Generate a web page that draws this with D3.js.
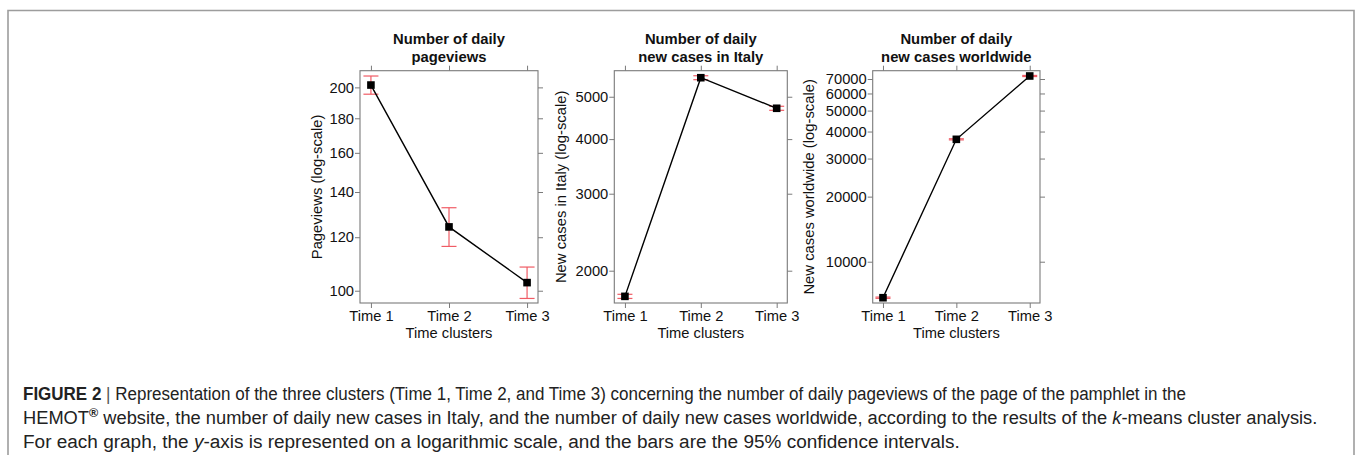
<!DOCTYPE html>
<html><head><meta charset="utf-8">
<script src="https://cdn.jsdelivr.net/npm/d3@7"></script>
<style>body{margin:0;background:#fff}</style>
</head><body>
<svg id="c" width="1356" height="455" xmlns="http://www.w3.org/2000/svg"></svg>
<script>
// ---------------- data ----------------
const categories = ["Time 1", "Time 2", "Time 3"];
const pageviewsMean = [201.6, 124.3, 102.8];
const pageviewsLow  = [195.4, 116.3, 97.4];
const pageviewsHigh = [207.9, 132.7, 108.4];
const italyMean = [1747, 5527, 4705];
const italyLow  = [1728, 5470, 4655];
const italyHigh = [1766, 5585, 4755];
const worldMean = [6815, 36820, 72280];
const worldLow  = [6770, 36600, 71850];
const worldHigh = [6860, 37040, 72710];
const pageviewsTicks = [100, 120, 140, 160, 180, 200];
const italyTicks = [2000, 3000, 4000, 5000];
const worldTicks = [10000, 20000, 30000, 40000, 50000, 60000, 70000];
const pageviewsDomain = [95.9, 211.7];
const italyDomain = [1687, 5735];
const worldDomain = [6442, 76470];
const titles = [["Number of daily", "pageviews"], ["Number of daily", "new cases in Italy"], ["Number of daily", "new cases worldwide"]];
const yLabels = ["Pageviews (log-scale)", "New cases in Italy (log-scale)", "New cases worldwide (log-scale)"];
const xLabel = "Time clusters";

// ---------------- layout ----------------
const svg = d3.select("#c");
svg.append("rect").attr("width", 1356).attr("height", 455).attr("fill", "#fff");
svg.append("path").attr("d", "M8,455V10.5H1354V455").attr("fill", "none")
  .attr("stroke", "#9d9d9d").attr("stroke-width", 1.6);

const FONT = "'Liberation Sans', Arial, Helvetica, sans-serif";
const plotTop = 70.7, plotBottom = 303;
const panels = [
  {x0: 360, x1: 538, ylabX: 321.7, mean: pageviewsMean, low: pageviewsLow, high: pageviewsHigh, ticks: pageviewsTicks, domain: pageviewsDomain},
  {x0: 614.3, x1: 787.3, ylabX: 565.5, mean: italyMean, low: italyLow, high: italyHigh, ticks: italyTicks, domain: italyDomain},
  {x0: 872.7, x1: 1040, ylabX: 814, mean: worldMean, low: worldLow, high: worldHigh, ticks: worldTicks, domain: worldDomain}
];
const axisCol = "#7a7a7a";
const errCol = "#ef4b55";

panels.forEach((p, i) => {
  const g = svg.append("g");
  const x = d3.scaleLinear().domain([0.86, 3.14]).range([p.x0, p.x1]);
  const y = d3.scaleLog().domain(p.domain).range([plotBottom, plotTop]);
  const idx = categories.map((c, k) => k + 1);

  function styleAxis(sel) {
    sel.select(".domain").remove();
    sel.selectAll(".tick line").attr("stroke", axisCol).attr("stroke-width", 1);
    sel.selectAll(".tick text").attr("fill", "#111").style("font-family", FONT).style("font-size", "14.7px");
  }
  g.append("g").attr("transform", `translate(${p.x0},0)`)
    .call(d3.axisLeft(y).tickValues(p.ticks).tickFormat(d3.format("d")).tickSize(5).tickPadding(1)).call(styleAxis);
  g.append("g").attr("transform", `translate(${p.x1},0)`)
    .call(d3.axisRight(y).tickValues(p.ticks).tickFormat("").tickSize(5)).call(styleAxis);
  g.append("g").attr("transform", `translate(0,${plotTop})`)
    .call(d3.axisTop(x).tickValues(idx).tickFormat("").tickSize(5)).call(styleAxis);
  g.append("g").attr("transform", `translate(0,${plotBottom})`)
    .call(d3.axisBottom(x).tickValues(idx).tickFormat(d => categories[d - 1]).tickSize(5).tickPadding(2.2)).call(styleAxis);

  g.append("rect").attr("x", p.x0).attr("y", plotTop).attr("width", p.x1 - p.x0).attr("height", plotBottom - plotTop)
    .attr("fill", "none").attr("stroke", axisCol).attr("stroke-width", 1.1);

  const cx = (p.x0 + p.x1) / 2;
  titles[i].forEach((t, k) => {
    g.append("text").attr("x", cx).attr("y", 44 + k * 17.6).attr("text-anchor", "middle")
      .style("font-family", FONT).style("font-size", "14.8px").style("font-weight", "bold").attr("fill", "#111").text(t);
  });
  g.append("text").attr("x", cx).attr("y", 338).attr("text-anchor", "middle")
    .style("font-family", FONT).style("font-size", "14.7px").attr("fill", "#111").text(xLabel);
  g.append("text").attr("transform", `translate(${p.ylabX},${(plotTop + plotBottom) / 2}) rotate(-90)`).attr("text-anchor", "middle")
    .style("font-family", FONT).style("font-size", "14.8px").attr("fill", "#111").text(yLabels[i]);

  const capW = 7.5;
  categories.forEach((c, k) => {
    const xx = x(k + 1);
    const eb = g.append("g").attr("stroke", errCol).attr("stroke-width", 1.2).attr("opacity", 0.9);
    eb.append("line").attr("x1", xx).attr("x2", xx).attr("y1", y(p.low[k])).attr("y2", y(p.high[k]));
    eb.append("line").attr("x1", xx - capW).attr("x2", xx + capW).attr("y1", y(p.low[k])).attr("y2", y(p.low[k]));
    eb.append("line").attr("x1", xx - capW).attr("x2", xx + capW).attr("y1", y(p.high[k])).attr("y2", y(p.high[k]));
  });
  const line = d3.line().x((d, k) => x(k + 1)).y(d => y(d));
  g.append("path").attr("d", line(p.mean)).attr("fill", "none").attr("stroke", "#000").attr("stroke-width", 1.4);
  const s = 7.6;
  g.selectAll("rect.pt").data(p.mean).enter().append("rect").attr("class", "pt")
    .attr("x", (d, k) => x(k + 1) - s / 2).attr("y", d => y(d) - s / 2).attr("width", s).attr("height", s).attr("fill", "#000");
});

// ---------------- caption ----------------
const CAP = "'Liberation Sans Narrow', 'Liberation Sans', Arial, sans-serif";
const capLines = [
  {base: 400, parts: [
    {t: "FIGURE 2", w: "bold"}, {t: " | ", fill: "#555"},
    {t: "Representation of the three clusters (Time 1, Time 2, and Time 3) concerning the number of daily pageviews of the page of the pamphlet in the"}]},
  {base: 424, parts: [
    {t: "HEMOT"}, {t: "®", w: "bold", sup: true},
    {t: " website, the number of daily new cases in Italy, and the number of daily new cases worldwide, according to the results of the "},
    {t: "k", i: true}, {t: "-means cluster analysis."}]},
  {base: 448, parts: [
    {t: "For each graph, the "}, {t: "y", i: true},
    {t: "-axis is represented on a logarithmic scale, and the bars are the 95% confidence intervals."}]}
];
const targets = [1164, 1296, 937];
const capNodes = capLines.map(L => {
  const tx = svg.append("text").attr("x", 0).attr("y", 0)
    .style("font-family", CAP).style("font-size", "19px").attr("fill", "#222");
  let shifted = false;
  L.parts.forEach(pt => {
    const ts = tx.append("tspan").text(pt.t);
    if (pt.w) ts.style("font-weight", pt.w);
    if (pt.i) ts.style("font-style", "italic");
    if (pt.fill) ts.attr("fill", pt.fill);
    if (pt.sup) { ts.attr("dy", -7).style("font-size", "13px"); shifted = true; }
    else if (shifted) { ts.attr("dy", 7); shifted = false; }
  });
  return tx;
});
const widths = capNodes.map(n => n.node().getComputedTextLength());
capNodes.forEach((n, k) => {
  const sx = targets[k] / widths[k];
  n.attr("transform", `translate(23,${capLines[k].base}) scale(${sx},1)`);
});
</script>
</body></html>
